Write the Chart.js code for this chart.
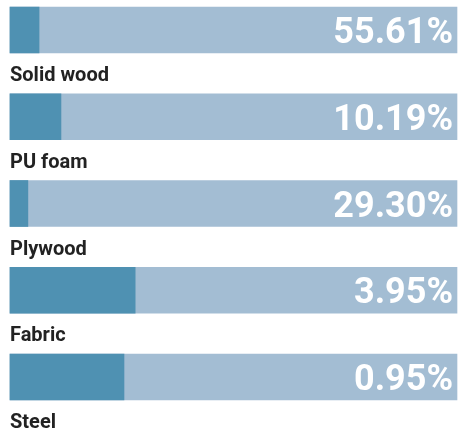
<!DOCTYPE html>
<html>
<head>
<meta charset="utf-8">
<script src="https://cdn.jsdelivr.net/npm/chart.js@4"></script>
<style>
  html, body { margin: 0; padding: 0; background: #ffffff; }
  #wrap { width: 462px; height: 432px; }
</style>
</head>
<body>
<div id="wrap"><canvas id="c" width="462" height="432"></canvas></div>
<script>
const categories = ['Solid wood', 'PU foam', 'Plywood', 'Fabric', 'Steel'];
const shares = [55.61, 10.19, 29.30, 3.95, 0.95];
const fillValues = [6.5, 11.4, 4.0, 28.0, 25.5];
const trackValues = [100, 100, 100, 100, 100];

const labelPlugin = {
  id: 'labelPlugin',
  afterDatasetsDraw(chart) {
    const ctx = chart.ctx;
    const x = chart.scales.x;
    const y = chart.scales.y;
    ctx.save();
    categories.forEach((cat, i) => {
      const cy = y.getPixelForValue(i);
      ctx.fillStyle = '#222222';
      ctx.font = 'bold 20px Roboto';
      ctx.textAlign = 'left';
      ctx.textBaseline = 'alphabetic';
      ctx.fillText(cat, x.getPixelForValue(0), cy + 51);
      ctx.fillStyle = '#ffffff';
      ctx.font = 'bold 36px Roboto';
      ctx.textAlign = 'right';
      ctx.fillText(shares[i].toFixed(2) + '%', x.getPixelForValue(100) - 4, cy + 13);
    });
    ctx.restore();
  }
};

new Chart(document.getElementById('c'), {
  type: 'bar',
  data: {
    labels: categories,
    datasets: [
      { data: fillValues, backgroundColor: '#4f91b2', order: 0, clip: false },
      { data: trackValues, backgroundColor: '#a3bdd3', order: 1, clip: false }
    ]
  },
  options: {
    indexAxis: 'y',
    responsive: false,
    animation: false,
    barThickness: 46,
    grouped: false,
    layout: { padding: { left: 10, right: 5, top: 30, bottom: 55 } },
    scales: {
      x: { display: false, min: 0, max: 100 },
      y: { display: false, offset: false }
    },
    plugins: { legend: { display: false }, tooltip: { enabled: false } }
  },
  plugins: [labelPlugin]
});
</script>
</body>
</html>
